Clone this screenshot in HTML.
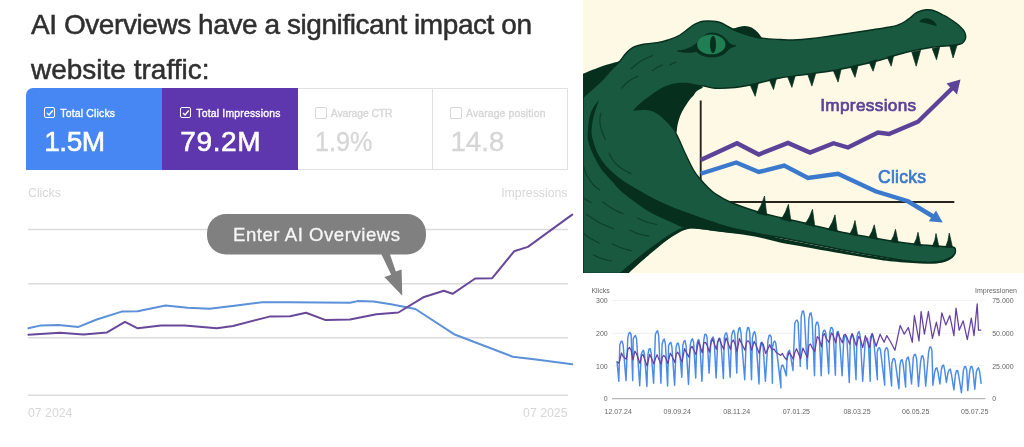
<!DOCTYPE html>
<html lang="en">
<head>
<meta charset="utf-8">
<title>AI Overviews have a significant impact on website traffic</title>
<style>
  html,body{margin:0;padding:0;background:#fff;}
  body{width:1024px;height:447px;overflow:hidden;position:relative;font-family:"Liberation Sans",Arial,sans-serif;}
  #stage{position:absolute;left:0;top:0;width:1024px;height:447px;overflow:hidden;background:#fff;}
  h1{position:absolute;margin:0;left:31px;top:0;font-weight:400;font-size:28px;color:#2f2f2f;white-space:nowrap;line-height:44px;-webkit-text-stroke:0.5px #2f2f2f;}
  h1 .l1{position:absolute;left:0;top:3px;letter-spacing:-0.43px;}
  h1 .l2{position:absolute;left:0;top:47.6px;}
  .cards{position:absolute;left:26.3px;top:88.1px;width:542px;height:82.3px;display:flex;}
  .card{position:relative;box-sizing:border-box;height:82.3px;flex:0 0 auto;}
  .card.blue{width:136px;background:#4687f4;border-radius:7px 0 0 0;color:#fff;}
  .card.purple{width:135.5px;background:#5e36ae;color:#fff;}
  .card.off{width:135.2px;background:#fff;border:1px solid #e0e0e0;border-left:none;color:#d6d6d6;}
  .card.off.first{border-left:none;}
  .card .lab{position:absolute;left:34px;top:19.5px;font-size:10.4px;line-height:12px;white-space:nowrap;-webkit-text-stroke:0.35px currentColor;}
  .card.off .lab{top:18.5px;left:33px;}
  .card.off .chk{top:18px;left:17.5px;}
  .card.off .val{top:37.5px;left:17.5px;-webkit-text-stroke:0.3px currentColor;}
  .card .chk{position:absolute;left:17.6px;top:18.6px;width:9.6px;height:9.6px;border:1px solid currentColor;border-radius:2px;}
  .card .chk svg{position:absolute;left:0;top:0;width:9.6px;height:9.6px;}
  .card .val{position:absolute;left:18px;top:38.5px;font-size:28px;line-height:30px;white-space:nowrap;-webkit-text-stroke:0.6px currentColor;transform-origin:left center;}
  .axl{position:absolute;font-size:12.3px;line-height:13px;color:#d7d7d7;white-space:nowrap;}
  #chart{position:absolute;left:0;top:0;}
  #right{position:absolute;left:0;top:0;}
</style>
</head>
<body>
<div id="stage">
  <h1><span class="l1">AI Overviews have a significant impact on</span><span class="l2">website traffic:</span></h1>

  <div class="cards">
    <div class="card blue"><span class="chk"><svg viewBox="0 0 9 9"><path d="M1.9 4.6 L3.8 6.5 L7.3 2.4" fill="none" stroke="#fff" stroke-width="1.3"/></svg></span><span class="lab" style="letter-spacing:0.2px">Total Clicks</span><span class="val" style="letter-spacing:-0.5px">1.5M</span></div>
    <div class="card purple"><span class="chk"><svg viewBox="0 0 9 9"><path d="M1.9 4.6 L3.8 6.5 L7.3 2.4" fill="none" stroke="#fff" stroke-width="1.3"/></svg></span><span class="lab" style="letter-spacing:0.2px">Total Impressions</span><span class="val" style="letter-spacing:0.6px">79.2M</span></div>
    <div class="card off first"><span class="chk"></span><span class="lab" style="letter-spacing:-0.1px">Avarage CTR</span><span class="val" style="transform:scaleX(0.9)">1.9%</span></div>
    <div class="card off"><span class="chk"></span><span class="lab" style="letter-spacing:0.15px">Avarage position</span><span class="val" style="letter-spacing:-0.2px">14.8</span></div>
  </div>

  <span class="axl" style="left:28px;top:187.2px;">Clicks</span>
  <span class="axl" style="right:456.5px;top:187.2px;">Impressions</span>
  <span class="axl" style="left:28px;top:406.5px;">07 2024</span>
  <span class="axl" style="right:456.5px;top:406.5px;">07 2025</span>

  <svg id="chart" width="583" height="447" viewBox="0 0 583 447">
    <g stroke="#dcdcdc" stroke-width="1.5" fill="none">
      <line x1="28" y1="229.6" x2="568" y2="229.6"/>
      <line x1="28" y1="283.7" x2="568" y2="283.7"/>
      <line x1="28" y1="337.8" x2="568" y2="337.8"/>
      <line x1="28" y1="395.3" x2="568" y2="395.3"/>
    </g>
    <polyline fill="none" stroke="#5c90d8" stroke-width="2" stroke-linejoin="round" stroke-linecap="round"
      points="28.4,328.3 41,325.4 58.6,325.1 78.5,326.9 96.7,319.5 121.6,311.6 137.7,311.3 165.5,305.5 187.5,307.8 209.5,308.7 234.4,305.8 262.2,302.3 290,302.3 350,302.8 357.4,301.1 373.5,301.4 391,304.3 415.4,309 454,334.2 512.7,356.7 536,359.4 572.2,364.3"/>
    <polyline fill="none" stroke="#69489a" stroke-width="2" stroke-linejoin="round" stroke-linecap="round"
      points="28.4,334.7 60,332.7 83.5,334.5 107,332.4 125,321.9 137.7,328.3 161,325.4 184.6,325.4 216.8,328.3 233,326 269.5,316.6 290,316.3 306,312.8 325.7,320.1 350,319.5 376.4,314.3 398.4,312.5 423.3,297.3 443.8,290.8 452.6,293.8 475.2,278.5 492.2,278.2 514.1,251.3 527.9,246.9 572.2,214.6"/>
    <g>
      <path d="M380.3,252 L389.2,252 L395.8,271.5 L401.6,269.4 L402.3,295.8 L384.3,276.9 L391.2,274.8 Z" fill="#808080"/>
      <rect x="207" y="214" width="219" height="40.5" rx="19" ry="19" fill="#808080"/>
      <text x="233" y="240.7" font-family="'Liberation Sans',Arial,sans-serif" font-size="18.6" fill="#f6f6f6" stroke="#f6f6f6" stroke-width="0.3" textLength="167" lengthAdjust="spacing">Enter AI Overviews</text>
    </g>
  </svg>

  <svg id="right" width="1024" height="447" viewBox="0 0 1024 447">
    <defs><clipPath id="pc"><rect x="583" y="0" width="441" height="273"/></clipPath></defs>
    <rect x="583" y="0" width="441" height="273" fill="#fdf9e5"/>
    <g clip-path="url(#pc)">
      <!-- chart inside the jaws -->
      <line x1="700.7" y1="100.5" x2="700.7" y2="182" stroke="#27241d" stroke-width="1.9"/>
      <line x1="726" y1="202" x2="954.3" y2="202" stroke="#27241d" stroke-width="2"/>
<path d="M583,97 C585.8,94.5 595.2,86.7 600.0,82.0 C604.8,77.3 608.7,72.5 612.0,69.0 C615.3,65.5 617.4,63.9 619.8,61.2 C622.1,58.6 623.7,55.6 626.0,53.3 C628.3,51.0 630.6,48.7 633.5,47.2 C636.4,45.7 639.5,45.0 643.5,44.2 C647.5,43.4 653.2,43.3 657.2,42.6 C661.3,41.9 664.2,41.3 668.0,40.0 C671.8,38.7 675.9,37.4 680.0,35.0 C684.1,32.6 689.2,27.7 692.5,25.5 C695.8,23.3 697.5,22.8 700.0,22.0 C702.5,21.2 704.8,21.1 707.5,21.0 C710.2,20.9 713.5,21.1 716.0,21.5 C718.5,21.9 719.8,22.2 722.5,23.5 C725.2,24.8 728.8,27.2 732.5,29.0 C736.2,30.8 740.2,32.5 745.0,34.0 C749.8,35.5 755.2,37.1 761.0,38.0 C766.8,38.9 774.7,39.2 780.0,39.5 C785.3,39.8 787.7,40.2 793.0,40.0 C798.3,39.8 805.8,39.2 812.0,38.5 C818.2,37.8 821.2,37.3 830.5,36.0 C839.8,34.7 858.1,32.0 868.0,30.5 C877.9,29.0 885.0,27.9 890.0,27.0 C895.0,26.1 895.5,25.9 898.0,25.0 C900.5,24.1 902.9,22.8 905.0,21.5 C907.1,20.2 908.8,18.8 910.5,17.5 C912.2,16.2 913.3,14.6 915.0,13.5 C916.7,12.4 918.7,11.6 920.5,11.0 C922.3,10.4 924.2,10.0 926.0,9.8 C927.8,9.6 929.7,9.7 931.5,10.0 C933.3,10.3 935.1,11.0 937.0,11.8 C938.9,12.6 941.1,14.0 943.0,15.0 C944.9,16.0 946.6,16.8 948.5,18.0 C950.4,19.2 952.6,20.6 954.5,22.0 C956.4,23.4 958.4,24.8 960.0,26.4 C961.6,27.9 963.2,29.7 964.2,31.3 C965.2,32.9 965.6,34.5 965.7,36.0 C965.8,37.5 965.4,39.1 964.8,40.3 C964.2,41.5 963.2,42.5 962.0,43.3 C960.8,44.0 959.3,44.4 957.5,44.8 C955.7,45.2 955.5,45.0 951.0,45.5 C946.5,46.0 938.1,46.3 930.5,47.5 C922.9,48.7 913.8,50.4 905.5,52.5 C897.2,54.6 888.8,57.8 880.5,60.0 C872.2,62.2 863.8,64.2 855.5,66.0 C847.2,67.8 838.8,69.6 830.5,71.0 C822.2,72.4 813.9,73.3 805.5,74.5 C797.1,75.7 788.4,76.4 780.0,78.0 C771.6,79.6 762.5,82.4 755.0,84.0 C747.5,85.6 741.7,86.8 735.0,87.5 C728.3,88.2 720.8,88.5 715.0,88.2 C709.2,88.0 703.7,84.9 700.0,86.0 C696.3,87.1 694.2,93.5 693.0,95.0 C692.2,95.8 690.0,98.0 688.5,100.0 C687.0,102.0 685.5,104.5 684.0,107.0 C682.5,109.5 680.9,112.2 679.8,115.0 C678.6,117.8 677.7,121.0 677.0,124.0 C676.3,127.0 676.0,131.5 675.8,133.0 C676.4,134.2 678.0,137.2 679.5,140.5 C681.0,143.8 682.4,147.6 684.8,152.5 C687.1,157.4 690.8,165.4 693.5,170.0 C696.2,174.6 698.6,177.1 701.0,180.0 C703.4,182.9 705.7,185.2 708.0,187.5 C710.3,189.8 711.3,191.1 715.0,193.5 C718.7,195.9 723.3,199.1 730.0,202.0 C736.7,204.9 746.7,208.4 755.0,211.0 C763.3,213.6 771.7,215.5 780.0,217.5 C788.3,219.5 798.7,221.5 805.0,223.0 C811.3,224.5 811.7,224.9 818.0,226.5 C824.3,228.1 834.7,230.8 843.0,232.5 C851.3,234.2 859.7,235.5 868.0,237.0 C876.3,238.5 884.7,240.0 893.0,241.2 C901.3,242.5 909.7,243.6 918.0,244.5 C926.3,245.4 937.3,246.1 943.0,246.5 C948.7,246.9 950.5,246.8 952.0,246.8 C952.5,247.0 954.2,247.3 954.8,248.0 C955.4,248.7 955.5,249.9 955.5,251.0 C955.5,252.1 955.1,253.4 954.5,254.5 C953.9,255.6 953.0,256.5 951.8,257.5 C950.5,258.5 948.9,259.6 947.0,260.3 C945.1,261.1 943.0,261.6 940.5,262.0 C938.0,262.4 934.9,262.7 932.0,262.8 C929.1,262.9 927.5,262.8 923.0,262.5 C918.5,262.2 910.0,261.4 905.0,260.8 C900.0,260.2 899.2,259.8 893.0,258.8 C886.8,257.7 876.3,256.0 868.0,254.5 C859.7,253.0 851.3,251.6 843.0,250.0 C834.7,248.4 826.3,246.7 818.0,245.0 C809.7,243.3 801.3,241.6 793.0,240.0 C784.7,238.4 776.0,236.7 768.0,235.5 C760.0,234.3 753.0,233.8 745.0,233.0 C737.0,232.2 726.9,231.7 720.0,231.0 C713.1,230.3 708.6,229.3 703.8,228.8 C698.9,228.2 693.1,227.7 691.0,227.5 C689.5,227.9 685.2,228.8 682.2,230.0 C679.3,231.2 676.6,233.0 673.5,235.0 C670.4,237.0 666.6,239.7 663.5,242.0 C660.4,244.3 657.9,246.6 655.0,249.0 C652.1,251.4 649.4,253.6 646.0,256.5 C642.6,259.4 637.9,263.7 634.8,266.5 C631.6,269.3 628.5,272.3 627.2,273.5 L583,273.5 Z" fill="#19593f" stroke="#072f1e" stroke-width="1.4" stroke-linejoin="round"/>
<path d="M583,73.75 C585.8,72.6 595.2,68.8 600.0,67.0 C604.8,65.2 608.7,64.2 612.0,63.2 C615.3,62.2 618.5,61.6 619.8,61.2 C618.5,62.5 615.3,65.5 612.0,69.0 C608.7,72.5 604.8,77.2 600.0,82.0 C595.2,86.8 585.8,95.3 583.0,98.0 Z" fill="#072f1e"/>
<path d="M731.5,29.6 C730.8,28.8 734.1,28.4 735.5,27.9 C736.9,27.4 738.2,27.0 739.8,26.7 C741.4,26.4 743.2,25.9 745.2,26.0 C747.2,26.1 749.6,26.7 751.6,27.6 C753.6,28.6 755.6,30.5 757.0,31.7 C758.4,32.9 759.2,33.9 759.9,35.0 C760.6,36.1 762.4,38.1 761.4,38.5 C760.4,38.9 756.3,37.7 754.0,37.2 C751.7,36.7 749.8,36.3 747.5,35.6 C745.2,34.9 742.7,33.8 740.0,32.8 C737.3,31.8 732.2,30.4 731.5,29.6 Z" fill="#072f1e"/>
<path d="M633,110.6 C634.2,109.4 637.0,106.1 640.0,103.5 C643.0,100.9 647.1,97.8 651.0,95.0 C654.9,92.2 659.3,89.0 663.5,87.0 C667.7,85.0 671.8,83.9 676.0,83.2 C680.2,82.5 684.5,82.6 688.5,83.0 C692.5,83.4 697.6,84.8 700.0,85.5 C702.4,86.2 702.5,87.2 703.0,87.5 C702.0,88.1 698.7,89.8 697.0,91.0 C695.3,92.2 694.4,93.5 693.0,95.0 C691.6,96.5 690.0,98.0 688.5,100.0 C687.0,102.0 685.5,104.5 684.0,107.0 C682.5,109.5 680.9,112.2 679.8,115.0 C678.6,117.8 677.6,120.9 677.0,124.0 C676.4,127.1 676.2,131.9 676.0,133.5 C675.3,132.6 673.5,129.8 672.0,128.0 C670.5,126.2 668.9,124.2 667.2,122.5 C665.6,120.8 663.7,119.0 662.0,117.5 C660.3,116.0 659.0,114.8 657.2,113.8 C655.5,112.7 653.4,111.6 651.5,111.0 C649.6,110.4 647.9,110.1 646.0,110.0 C644.1,109.9 642.2,110.1 640.0,110.2 C637.8,110.3 634.2,110.5 633.0,110.6 Z" fill="#072f1e"/>
<path d="M599,100 C598.0,101.3 594.6,105.1 593.0,108.0 C591.4,110.9 590.4,113.7 589.5,117.5 C588.6,121.3 588.1,127.2 587.9,131.0 C587.6,134.8 587.3,136.4 588.0,140.0 C588.7,143.6 590.1,147.7 592.2,152.5 C594.4,157.3 597.7,163.9 601.0,168.8 C604.3,173.6 609.1,178.0 612.2,181.5 C615.4,185.0 616.4,186.9 619.8,190.0 C623.1,193.1 627.5,196.5 632.2,200.0 C637.0,203.5 643.3,208.1 648.5,211.2 C653.7,214.4 659.1,216.6 663.5,218.8 C667.9,220.9 671.8,222.5 675.0,224.0 C678.2,225.5 680.3,226.8 683.0,227.5 C685.7,228.2 687.5,228.2 691.0,228.5 C694.5,228.8 697.2,228.8 703.8,229.5 C710.2,230.2 721.5,231.8 730.0,233.0 C738.5,234.2 746.7,234.9 755.0,236.5 C763.3,238.1 771.7,240.8 780.0,242.5 C788.3,244.2 795.8,245.3 805.0,247.0 C814.2,248.7 825.0,250.7 835.5,252.5 C846.0,254.3 858.4,256.5 868.0,258.0 C877.6,259.5 883.8,260.6 893.0,261.5 C902.2,262.4 915.1,263.3 923.0,263.5 C930.9,263.7 935.7,263.7 940.5,262.8 C945.3,261.9 949.3,259.8 951.8,258.0 C954.2,256.2 954.5,253.0 955.0,252.0 C954.3,252.8 953.4,255.1 951.0,256.5 C948.6,257.9 945.2,259.8 940.5,260.6 C935.8,261.5 930.9,261.9 923.0,261.6 C915.1,261.3 902.2,260.1 893.0,259.0 C883.8,257.9 877.6,256.9 868.0,255.3 C858.4,253.7 846.0,251.3 835.5,249.3 C825.0,247.3 814.2,245.1 805.0,243.3 C795.8,241.5 788.3,240.1 780.0,238.3 C771.7,236.5 763.3,234.2 755.0,232.3 C746.7,230.4 738.5,229.3 730.0,227.0 C721.5,224.7 710.7,220.8 703.8,218.5 C696.8,216.2 694.2,215.1 688.5,213.0 C682.8,210.9 676.0,208.7 669.8,206.0 C663.5,203.3 656.2,199.7 651.0,197.0 C645.8,194.3 643.1,192.7 638.5,190.0 C633.9,187.3 628.5,184.6 623.5,181.0 C618.5,177.4 612.7,172.8 608.5,168.5 C604.3,164.2 601.1,159.8 598.5,155.0 C595.9,150.2 594.0,144.0 592.9,140.0 C591.8,136.0 591.5,134.8 591.6,131.0 C591.7,127.2 592.3,122.2 593.5,117.0 C594.7,111.8 598.1,102.8 599.0,100.0 Z" fill="#072f1e"/>
<path d="M691,227.8 C689.5,228.2 685.2,229.1 682.2,230.3 C679.3,231.6 676.6,233.3 673.5,235.3 C670.4,237.3 666.6,240.0 663.5,242.3 C660.4,244.6 657.9,246.9 655.0,249.3 C652.1,251.7 649.4,253.9 646.0,256.8 C642.6,259.7 637.9,264.0 634.8,266.8 C631.6,269.6 628.5,272.4 627.2,273.5 L619,273.5 C620.5,272.2 624.5,268.9 628.0,266.0 C631.5,263.1 636.2,259.1 640.0,256.0 C643.8,252.9 647.3,250.2 651.0,247.5 C654.7,244.8 658.5,241.9 662.0,239.5 C665.5,237.1 668.8,234.8 672.0,233.0 C675.2,231.2 677.8,229.4 681.0,228.5 C684.2,227.6 689.3,227.9 691.0,227.8 Z" fill="#072f1e"/>
<path d="M750.3,85.2 L755.2,96.3 L758.3,83.2 Z" fill="#072f1e" stroke="#072f1e" stroke-width="0.7" stroke-linejoin="round"/>
<path d="M769.2,79.5 L773.5,89.6 L776.5,78.2 Z" fill="#072f1e" stroke="#072f1e" stroke-width="0.7" stroke-linejoin="round"/>
<path d="M787.6,76.8 L791.9,87.4 L795.2,75.8 Z" fill="#072f1e" stroke="#072f1e" stroke-width="0.7" stroke-linejoin="round"/>
<path d="M807.8,74.6 L811.9,86.1 L815.6,73.7 Z" fill="#072f1e" stroke="#072f1e" stroke-width="0.7" stroke-linejoin="round"/>
<path d="M833.5,71 L838.1,82.1 L841.1,69.3 Z" fill="#072f1e" stroke="#072f1e" stroke-width="0.7" stroke-linejoin="round"/>
<path d="M850.4,66.8 L855,77.3 L858.3,64.5 Z" fill="#072f1e" stroke="#072f1e" stroke-width="0.7" stroke-linejoin="round"/>
<path d="M869,62 L873.1,71.2 L876.5,59.8 Z" fill="#072f1e" stroke="#072f1e" stroke-width="0.7" stroke-linejoin="round"/>
<path d="M887.2,57 L891.2,66.2 L893.7,55.3 Z" fill="#072f1e" stroke="#072f1e" stroke-width="0.7" stroke-linejoin="round"/>
<path d="M911.8,52 L916.2,66.2 L920.6,50.2 Z" fill="#072f1e" stroke="#072f1e" stroke-width="0.7" stroke-linejoin="round"/>
<path d="M932.2,48.4 L936.5,59.7 L939.7,47 Z" fill="#072f1e" stroke="#072f1e" stroke-width="0.7" stroke-linejoin="round"/>
<path d="M949.7,45.6 L953.1,58 L957.2,44.6 Z" fill="#072f1e" stroke="#072f1e" stroke-width="0.7" stroke-linejoin="round"/>
<path d="M756.8,213.2 Q761.9,205.2 764.5,196 L766.8,215.5 Z" fill="#072f1e" stroke="#072f1e" stroke-width="0.7" stroke-linejoin="round"/>
<path d="M781.3,219.2 Q786.0,212.3 788.4,204.3 L791.0,221.5 Z" fill="#072f1e" stroke="#072f1e" stroke-width="0.7" stroke-linejoin="round"/>
<path d="M805.0999999999999,224.2 Q810.0,217.3 812.5,209.3 L814.8,226.5 Z" fill="#072f1e" stroke="#072f1e" stroke-width="0.7" stroke-linejoin="round"/>
<path d="M828.0999999999999,229.7 Q832.8,222.8 835,214.8 L837.3,231.5 Z" fill="#072f1e" stroke="#072f1e" stroke-width="0.7" stroke-linejoin="round"/>
<path d="M849.8,234.2 Q853.6,227.9 855,220.5 L857.8,236 Z" fill="#072f1e" stroke="#072f1e" stroke-width="0.7" stroke-linejoin="round"/>
<path d="M868.5999999999999,237.7 Q872.6,231.8 874.25,224.8 L877.3,239.3 Z" fill="#072f1e" stroke="#072f1e" stroke-width="0.7" stroke-linejoin="round"/>
<path d="M890.5999999999999,241.7 Q894.2,236.1 895.5,229.3 L898.3,243 Z" fill="#072f1e" stroke="#072f1e" stroke-width="0.7" stroke-linejoin="round"/>
<path d="M913.5999999999999,244.7 Q917.0,239.1 918,232.3 L920.8,246 Z" fill="#072f1e" stroke="#072f1e" stroke-width="0.7" stroke-linejoin="round"/>
<path d="M932.3,246.5 Q935.4,240.6 936,233.5 L939.0,247.3 Z" fill="#072f1e" stroke="#072f1e" stroke-width="0.7" stroke-linejoin="round"/>
<path d="M945.5999999999999,247.2 Q948.6,240.7 949.25,233 L952.5,247.5 Z" fill="#072f1e" stroke="#072f1e" stroke-width="0.7" stroke-linejoin="round"/>
<path d="M919.3,22 C920.5,18.5 925.5,17.3 930,19 C934,20.6 936.5,23.5 936.8,26.3 C931,24.2 925,23 919.3,22 Z" fill="#072f1e"/>
<path d="M677.5,51 C686,50 692,47.5 697,43 C700,39.5 705,33 712,33 C720,33 725.5,38 728,42 C730,44.5 733,45.3 736,45.8 C732,47 729.5,48.5 727.5,50.5 C724,55 718.5,57 711.5,57 C704.5,57 699.5,54.5 696.5,51.5 C690,53 683,52.5 677.5,51 Z" fill="#072f1e" stroke="#072f1e" stroke-width="0.8" stroke-linejoin="round"/>
<ellipse cx="711.3" cy="44.4" rx="14.2" ry="9.9" fill="#217d53"/>
<ellipse cx="713" cy="44.4" rx="3" ry="8.7" fill="#072f1e"/>
<path d="M631.0,68.8 C632.7,67.5 637.5,63.2 641.0,61.0 C644.5,58.8 650.4,56.5 652.2,55.6" fill="none" stroke="#0e4029" stroke-width="1.2" stroke-linecap="round"/>
<path d="M652.2,70.6 C653.0,70.1 655.3,68.4 657.0,67.5 C658.7,66.6 661.4,65.4 662.2,65.0" fill="none" stroke="#0e4029" stroke-width="1.2" stroke-linecap="round"/>
<path d="M669.8,65.0 C670.3,64.7 672.0,63.8 673.0,63.3 C674.0,62.8 675.5,62.4 676.0,62.2" fill="none" stroke="#0e4029" stroke-width="1.2" stroke-linecap="round"/>
<path d="M621.6,88.1 C622.8,86.9 626.3,83.0 629.0,81.0 C631.7,79.0 636.4,77.0 637.9,76.2" fill="none" stroke="#0e4029" stroke-width="1.2" stroke-linecap="round"/>
<path d="M601.0,113.0 C600.8,114.3 599.7,118.2 599.8,121.0 C599.9,123.8 600.6,126.9 601.5,130.0 C602.4,133.1 604.8,137.8 605.4,139.4" fill="none" stroke="#0e4029" stroke-width="1.2" stroke-linecap="round"/>
<path d="M609.0,153.0 C609.6,154.1 611.1,157.5 612.5,159.5 C613.9,161.5 615.3,163.2 617.2,165.0 C619.2,166.8 621.7,168.6 624.0,170.0 C626.3,171.4 629.8,172.9 631.0,173.5" fill="none" stroke="#0e4029" stroke-width="1.2" stroke-linecap="round"/>
<path d="M584.0,167.0 C584.3,168.2 585.0,171.8 586.0,174.0 C587.0,176.2 588.4,178.1 589.8,180.0 C591.1,181.9 592.3,183.8 594.0,185.5 C595.7,187.2 598.8,189.2 599.8,190.0" fill="none" stroke="#0e4029" stroke-width="1.2" stroke-linecap="round"/>
<path d="M584.0,198.0 C584.6,198.4 586.3,199.8 587.5,200.5 C588.7,201.2 590.4,202.2 591.0,202.5" fill="none" stroke="#0e4029" stroke-width="1.2" stroke-linecap="round"/>
<path d="M603.0,202.0 C604.5,203.1 608.7,206.5 612.0,208.5 C615.3,210.5 621.2,212.9 623.0,213.8" fill="none" stroke="#0e4029" stroke-width="1.2" stroke-linecap="round"/>
<path d="M586.6,214.4 C588.7,215.8 594.5,220.1 599.0,222.5 C603.5,224.9 611.1,227.7 613.5,228.8" fill="none" stroke="#0e4029" stroke-width="1.2" stroke-linecap="round"/>
<path d="M637.2,218.0 C638.8,218.7 643.3,220.9 646.5,222.0 C649.7,223.1 654.9,224.0 656.6,224.4" fill="none" stroke="#0e4029" stroke-width="1.2" stroke-linecap="round"/>
<path d="M629.8,230.0 C631.3,230.7 635.9,233.0 639.0,234.0 C642.1,235.0 646.9,235.9 648.5,236.2" fill="none" stroke="#0e4029" stroke-width="1.2" stroke-linecap="round"/>
<path d="M584.0,233.8 C585.2,234.6 588.5,237.3 591.0,238.8 C593.5,240.3 597.7,242.3 599.0,243.0" fill="none" stroke="#0e4029" stroke-width="1.2" stroke-linecap="round"/>
<path d="M612.2,243.8 C613.8,244.5 618.4,246.9 621.5,248.0 C624.6,249.1 629.4,250.2 631.0,250.6" fill="none" stroke="#0e4029" stroke-width="1.2" stroke-linecap="round"/>
<path d="M593.5,255.0 C594.9,255.6 599.0,257.8 602.0,258.8 C605.0,259.8 610.0,260.8 611.6,261.2" fill="none" stroke="#0e4029" stroke-width="1.2" stroke-linecap="round"/>
      <polyline fill="none" stroke="#5c4298" stroke-width="4.4" stroke-linejoin="miter"
        points="700.7,160 737,143.25 758.75,154.5 788,143 810,152.5 833.5,143.25 848,147.5 878,132.5 889,134 918,121.75 953,87.5"/>
      <path d="M960.5,79.5 L946.5,83.5 L957,94.5 Z" fill="#5c4298"/>
      <polyline fill="none" stroke="#3a79cb" stroke-width="4.4" stroke-linejoin="miter"
        points="700.7,173.75 736.25,162.5 758.75,172 784.25,165.5 808,178 838,173.75 875.5,191.25 908,201.25 934,217"/>
      <path d="M942.7,222.4 L936,210.6 L928.8,221.3 Z" fill="#3a79cb"/>
      <text x="820.2" y="110.5" font-family="'Liberation Sans',Arial,sans-serif" font-size="17.2" fill="#5c4298" stroke="#5c4298" stroke-width="0.7" textLength="96" lengthAdjust="spacing">Impressions</text>
      <text x="878" y="183.3" font-family="'Liberation Sans',Arial,sans-serif" font-size="17.5" fill="#3a79cb" stroke="#3a79cb" stroke-width="0.7" textLength="48" lengthAdjust="spacing">Clicks</text>
    </g>

    <!-- bottom-right search console chart -->
    <g stroke="#f1f1f1" stroke-width="1">
      <line x1="612" y1="300.7" x2="985" y2="300.7"/>
      <line x1="612" y1="333.3" x2="985" y2="333.3"/>
      <line x1="612" y1="365.9" x2="985" y2="365.9"/>
    </g>
    <line x1="612" y1="398.7" x2="985.5" y2="398.7" stroke="#b8b8b8" stroke-width="1.3"/>
    <path d="M617.0,361.0 L618.8,381.2 L619.8,344.9 L620.9,341.8 L622.0,341.0 L623.1,344.4 L626.0,380.6 L627.8,337.8 L628.9,333.3 L630.0,332.4 L631.1,334.6 L632.7,380.6 L633.2,338.6 L634.3,336.8 L635.4,335.6 L636.5,338.6 L639.7,385.7 L641.2,354.3 L642.3,351.8 L643.4,350.3 L644.5,354.2 L646.9,386.5 L647.9,354.8 L649.0,349.2 L650.1,348.5 L651.2,353.0 L653.6,383.3 L655.4,334.4 L656.5,331.7 L657.6,330.8 L658.7,336.2 L660.9,383.3 L662.1,344.2 L663.2,340.2 L664.3,339.1 L665.4,343.8 L667.6,386.0 L668.6,345.5 L669.7,343.4 L670.8,342.3 L671.9,346.7 L674.6,385.2 L676.1,347.3 L677.2,343.1 L678.3,343.1 L679.4,348.6 L681.8,377.2 L682.8,345.3 L683.9,341.5 L685.0,340.4 L686.1,345.9 L688.5,384.4 L690.3,344.7 L691.4,340.2 L692.5,338.8 L693.6,342.4 L695.7,378.0 L696.7,345.8 L697.8,340.3 L698.9,339.6 L700.0,345.4 L701.9,381.2 L703.7,340.8 L704.8,334.4 L705.9,334.2 L707.0,336.8 L709.1,373.1 L710.9,340.8 L712.0,338.4 L713.1,336.9 L714.2,340.7 L716.1,378.0 L717.6,343.8 L718.7,338.7 L719.8,338.3 L720.9,342.3 L723.4,378.5 L724.3,337.5 L725.4,333.4 L726.5,332.9 L727.6,337.2 L730.1,377.2 L731.6,335.6 L732.7,331.6 L733.8,330.2 L734.9,335.0 L736.8,373.1 L737.7,334.3 L738.8,328.8 L739.9,327.5 L741.0,333.5 L744.7,379.8 L746.5,333.2 L747.6,327.8 L748.7,327.5 L749.8,333.0 L751.5,379.8 L752.4,338.4 L753.5,332.9 L754.6,331.6 L755.7,335.8 L759.0,383.9 L759.9,348.1 L761.0,342.6 L762.1,342.3 L763.2,347.6 L765.4,381.2 L768.0,340.3 L769.1,335.5 L770.2,335.1 L771.3,337.3 L772.4,383.3 L772.5,347.4 L773.6,342.4 L774.7,341.0 L775.8,343.3 L781.0,387.9 L780.6,371.3 L781.7,365.7 L782.8,365.1 L783.9,367.7 L786.3,375.8 L787.3,354.5 L788.4,351.5 L789.5,350.3 L790.6,355.8 L793.0,370.5 L794.8,323.2 L795.9,321.0 L797.0,320.0 L798.1,322.2 L800.3,366.4 L801.2,316.8 L802.3,311.4 L803.4,310.9 L804.5,316.4 L807.2,369.1 L808.8,319.7 L809.9,313.6 L811.0,312.8 L812.1,318.8 L814.5,375.8 L815.5,326.4 L816.6,322.3 L817.7,322.2 L818.8,326.6 L821.2,375.8 L822.7,333.4 L823.8,330.5 L824.9,330.2 L826.0,333.9 L828.7,373.7 L829.7,333.0 L830.8,327.8 L831.9,327.5 L833.0,329.7 L835.4,375.3 L836.1,338.0 L837.2,332.0 L838.3,331.6 L839.4,337.4 L842.1,375.8 L843.6,342.2 L844.7,336.2 L845.8,335.6 L846.9,339.4 L849.3,382.5 L850.3,339.3 L851.4,335.2 L852.5,334.2 L853.6,338.6 L856.0,379.8 L857.0,336.8 L858.1,332.5 L859.2,331.6 L860.3,337.3 L862.7,381.2 L865.1,343.3 L866.2,338.9 L867.3,338.3 L868.4,343.2 L870.2,381.2 L870.4,338.2 L871.5,334.7 L872.6,334.2 L873.7,340.2 L877.4,379.8 L877.1,352.7 L878.2,348.5 L879.3,347.7 L880.4,349.7 L884.7,385.2 L884.6,352.3 L885.7,348.5 L886.8,347.7 L887.9,349.7 L891.6,386.0 L891.8,363.8 L892.9,359.3 L894.0,358.4 L895.1,360.6 L898.9,388.7 L899.9,365.2 L901.0,360.4 L902.1,359.7 L903.2,364.4 L905.6,387.1 L906.0,361.5 L907.1,358.1 L908.2,357.0 L909.3,362.0 L911.5,383.9 L913.3,357.4 L914.4,354.5 L915.5,354.4 L916.6,359.1 L918.5,386.5 L920.5,362.6 L921.6,356.1 L922.7,355.7 L923.8,359.5 L925.7,386.0 L928.6,352.2 L929.7,347.3 L930.8,346.9 L931.9,350.3 L932.9,385.2 L934.7,372.0 L935.8,368.3 L936.9,367.8 L938.0,372.2 L939.9,383.9 L941.4,369.3 L942.5,365.7 L943.6,365.1 L944.7,370.2 L946.4,382.5 L948.1,372.2 L949.2,370.0 L950.3,369.1 L951.4,374.1 L953.9,389.8 L955.4,374.7 L956.5,370.8 L957.6,370.5 L958.7,375.7 L961.4,392.7 L963.4,370.4 L964.5,366.7 L965.6,366.4 L966.7,370.2 L967.8,390.6 L969.6,372.2 L970.7,366.6 L971.8,366.4 L972.9,369.7 L974.8,389.2 L976.3,372.1 L977.4,369.0 L978.5,367.8 L979.6,371.5 L981.2,383.9" fill="none" stroke="#4a8ae8" stroke-width="1.45" stroke-linejoin="round"/>
    <path d="M617.0,362.0 L619.1,363.2 L621.5,353.0 L623.1,356.5 L626.3,359.2 L627.9,349.3 L629.5,347.5 L631.1,350.1 L633.0,360.0 L634.9,351.1 L636.5,353.8 L640.0,363.5 L641.3,356.5 L642.9,354.3 L644.5,358.9 L647.2,366.0 L649.6,354.4 L651.2,357.5 L653.9,363.9 L655.5,358.5 L657.1,354.7 L658.7,358.9 L661.2,363.8 L662.2,357.3 L663.8,355.4 L665.4,357.3 L667.9,363.5 L670.3,353.2 L671.9,355.9 L674.9,362.6 L676.2,354.2 L677.8,352.2 L679.4,355.6 L682.1,362.1 L684.5,348.7 L686.1,352.0 L688.8,357.0 L690.4,348.9 L692.0,346.3 L693.6,349.8 L696.0,354.5 L698.4,341.7 L700.0,345.8 L702.2,352.8 L703.8,342.7 L705.4,342.4 L707.0,344.9 L709.4,352.1 L711.0,342.9 L712.6,338.9 L714.2,343.6 L716.4,349.4 L717.7,341.7 L719.3,338.5 L720.9,343.2 L723.7,349.2 L726.0,337.8 L727.6,341.7 L730.4,349.4 L731.7,342.5 L733.3,340.0 L734.9,343.7 L737.1,351.5 L739.4,338.5 L741.0,342.5 L745.0,350.1 L746.6,342.0 L748.2,340.8 L749.8,342.8 L751.8,350.4 L754.1,341.3 L755.7,344.5 L759.3,353.4 L761.6,342.6 L763.2,344.2 L765.7,353.5 L768.1,348.5 L769.7,344.7 L771.3,348.4 L772.6,349.7 L774.2,349.1 L775.8,352.0 L780.7,355.4 L782.3,353.3 L783.9,356.5 L786.6,359.9 L789.0,352.5 L790.6,354.2 L793.3,359.2 L794.9,352.2 L796.5,348.7 L798.1,352.6 L800.6,358.9 L802.9,348.1 L804.5,351.4 L807.5,357.7 L808.9,345.2 L810.5,344.0 L812.1,347.7 L814.8,351.3 L817.2,336.7 L818.8,338.0 L821.5,346.8 L822.8,336.0 L824.4,333.6 L826.0,338.0 L829.0,342.4 L831.4,332.9 L833.0,335.0 L835.7,342.8 L837.8,332.4 L839.4,336.5 L842.4,342.8 L843.7,335.3 L845.3,334.3 L846.9,337.1 L849.6,344.1 L852.0,333.6 L853.6,337.6 L856.3,345.9 L858.7,336.4 L860.3,338.8 L862.7,347.7 L865.4,335.6 L869.4,347.7 L872.1,333.4 L876.1,346.3 L880.1,334.2 L884.1,342.3 L886.8,335.6 L890.8,342.3 L894.9,350.3 L900.2,325.4 L904.2,334.2 L908.3,327.5 L912.3,342.3 L914.4,315.5 L919.0,341.0 L921.1,311.5 L924.4,334.2 L928.4,311.5 L932.4,338.3 L936.4,322.2 L939.1,335.6 L941.8,312.8 L945.8,324.9 L949.8,315.5 L953.9,335.6 L956.0,308.2 L959.2,330.2 L963.2,320.8 L967.3,339.6 L971.3,318.2 L974.0,335.6 L977.2,303.9 L978.5,330.2 L981.2,330.2" fill="none" stroke="#6540a3" stroke-width="1.25" stroke-linejoin="round"/>
    <g font-family="'Liberation Sans',Arial,sans-serif" font-size="7" fill="#666">
      <text x="591.4" y="293">Klicks</text>
      <text x="1017" y="293" text-anchor="end">Impressionen</text>
      <g text-anchor="end">
        <text x="607.7" y="303.3">300</text>
        <text x="607.7" y="335.9">200</text>
        <text x="607.7" y="368.5">100</text>
        <text x="607.7" y="401">0</text>
      </g>
      <text x="992.2" y="303.3">75.000</text>
      <text x="992.2" y="335.9">50.000</text>
      <text x="992.2" y="368.5">25.000</text>
      <text x="992.2" y="401">0</text>
      <g text-anchor="middle">
        <text x="618.2" y="413.5">12.07.24</text>
        <text x="677.2" y="413.5">09.09.24</text>
        <text x="736.7" y="413.5">08.11.24</text>
        <text x="796.3" y="413.5">07.01.25</text>
        <text x="857" y="413.5">08.03.25</text>
        <text x="915.7" y="413.5">06.05.25</text>
        <text x="974.7" y="413.5">05.07.25</text>
      </g>
    </g>
  </svg>
</div>
</body>
</html>
